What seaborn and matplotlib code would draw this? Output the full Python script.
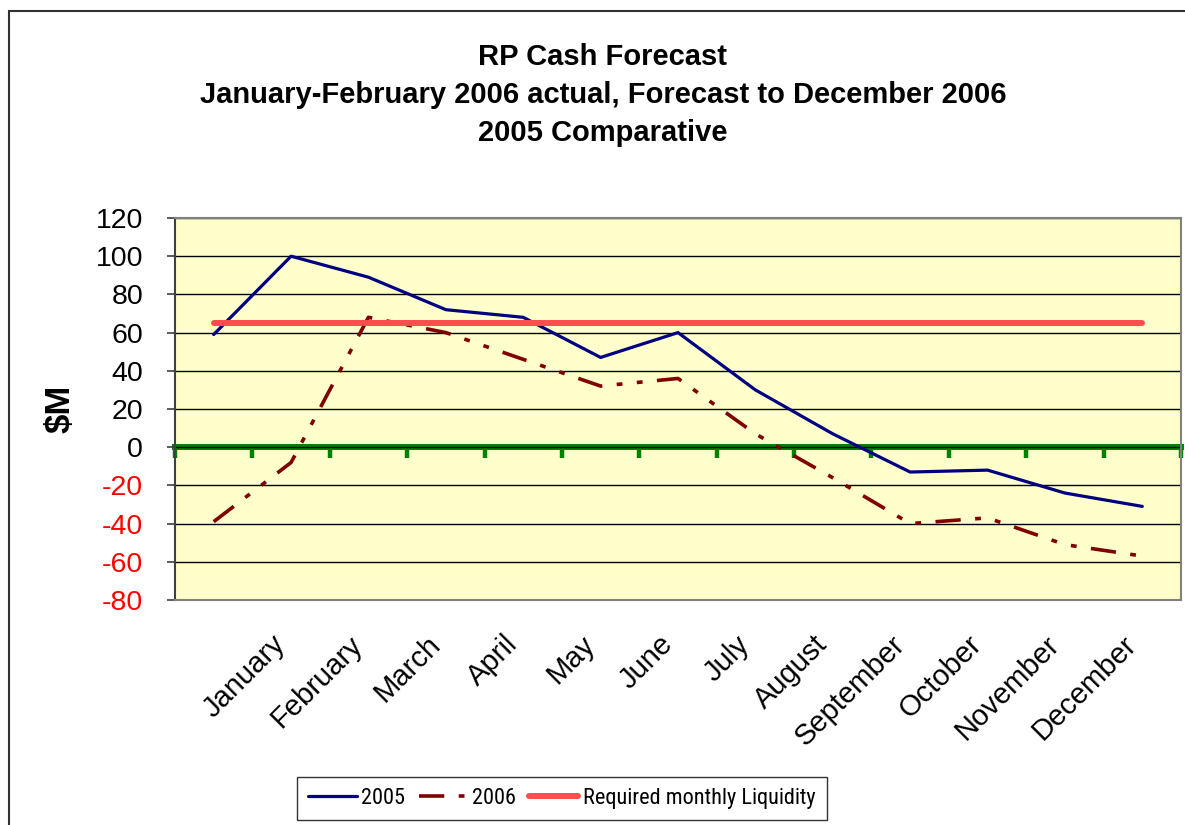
import numpy as np
import matplotlib
matplotlib.use('Agg')
import matplotlib.pyplot as plt
from matplotlib import font_manager
import seaborn as sns
from matplotlib.patches import Rectangle

# --- DATA ---
months = ["", "January", "February", "March", "April", "May", "June",
          "July", "August", "September", "October", "November", "December"]
cash_2005 = [59, 100, 89, 72, 68, 47, 60, 30, 7, -13, -12, -24, -31]
cash_2006 = [-39, -8, 68, 60, 46, 32, 36, 7, -16, -40, -37, -51, -57]
required_liquidity = [65] * len(months)
y_ticks = list(range(-80, 121, 20))

title = ("RP Cash Forecast\n"
         "January-February 2006 actual, Forecast to December 2006\n"
         "2005 Comparative")

# --- STYLE ---
sns.set_style("white")
plt.rcParams['font.family'] = ['Liberation Sans', 'DejaVu Sans']
for key in ['text.color', 'axes.labelcolor', 'xtick.color', 'ytick.color']:
    plt.rcParams[key] = 'black'


def condensed_font():
    # legend text in the reference is condensed; look for a narrow face
    for name in ['Liberation Sans Narrow', 'Arial Narrow', 'Roboto Condensed',
                 'Noto Sans', 'Open Sans', 'DejaVu Sans']:
        fp = font_manager.FontProperties(family=name, stretch='condensed')
        try:
            path = font_manager.findfont(fp, fallback_to_default=False)
        except Exception:
            continue
        low = path.lower()
        if 'narrow' in low or 'condensed' in low:
            return fp
    return None


narrow = condensed_font()
if narrow is not None:
    narrow.set_size(16)
    legend_font = narrow
else:
    legend_font = {'family': ['Liberation Sans'], 'size': 14.5}

W, H = 1185, 825
fig = plt.figure(figsize=(W / 100, H / 100), dpi=100)
ax = fig.add_axes([175 / W, 1 - 600 / H, (1181 - 175) / W, (600 - 218) / H])
ax.set_facecolor('#FFFFCC')

pos = np.arange(len(months))

sns.lineplot(x=pos, y=cash_2005, ax=ax, color='#000080', linewidth=2.3,
             label='2005')
sns.lineplot(x=pos, y=cash_2006, ax=ax, color='#800000', linewidth=2.6,
             linestyle=(0, (7, 4, 1.6, 4, 1.6, 4)), label='2006')
sns.lineplot(x=pos, y=required_liquidity, ax=ax, color='#FF4D4D',
             linewidth=4.3, label='Required monthly Liquidity')

# axes
ax.set_xlim(-0.5, len(months) - 0.5)
ax.set_ylim(y_ticks[0], y_ticks[-1])
ax.set_yticks(y_ticks)
ax.set_yticklabels([str(v) for v in y_ticks])
for lab, v in zip(ax.get_yticklabels(), y_ticks):
    lab.set_color('red' if v < 0 else 'black')
ax.tick_params(axis='y', direction='out', length=6, width=1.2,
               color='#404040', pad=17, labelsize=20.5, left=True)

ax.set_xticks(pos)
ax.set_xticklabels(months, rotation=45, ha='right', va='bottom',
                   rotation_mode='anchor', fontsize=21)
ax.tick_params(axis='x', length=0, pad=36)
ax.set_xlabel('')
ax.set_ylabel('$M', fontsize=25, fontweight='bold', labelpad=14)

ax.grid(axis='y', color='black', linewidth=1)
ax.set_axisbelow(True)
for side in ['top', 'right', 'bottom']:
    ax.spines[side].set_color('#808080')
    ax.spines[side].set_linewidth(1.5)
ax.spines['left'].set_color('#404040')
ax.spines['left'].set_linewidth(1.5)

# green zero axis with category boundary ticks
zero_loc = (0 - y_ticks[0]) / (y_ticks[-1] - y_ticks[0])
zx = ax.secondary_xaxis(zero_loc)
zx.set_xticks(np.arange(-0.5, len(months), 1))
zx.tick_params(direction='out', length=8, width=3.2, color='#008000',
               labelbottom=False, labeltop=False)
zx.spines['bottom'].set_color('#008000')
zx.spines['bottom'].set_linewidth(4.3)

# legend
ax.get_legend().remove()
handles, labels = ax.get_legend_handles_labels()
leg = fig.legend(handles, labels, ncol=3, loc='upper left',
                 bbox_to_anchor=(297 / W, 1 - 777 / H), borderaxespad=0,
                 frameon=True, fancybox=False, edgecolor='black',
                 handlelength=2.2, handletextpad=0.2, columnspacing=0.6,
                 borderpad=0.5, prop=legend_font)
leg.get_frame().set_linewidth(1)
leg.get_frame().set_facecolor('white')

# title
fig.text(603 / W, 1 - 95 / H, title, ha='center', va='center',
         fontsize=21, fontweight='bold', linespacing=1.45)

# outer chart border
fig.patches.append(Rectangle((9 / W, -0.1), 1.2, 1.1 - 11 / H,
                             transform=fig.transFigure, fill=False,
                             edgecolor='#303030', linewidth=1.5))

fig.savefig('out.png', dpi=100)
plt.close(fig)
